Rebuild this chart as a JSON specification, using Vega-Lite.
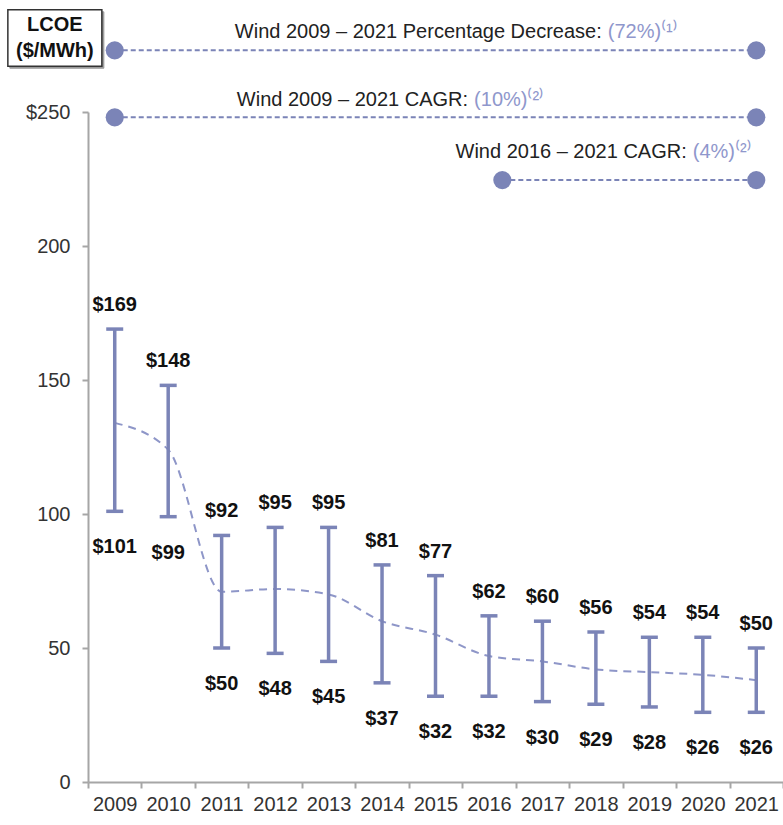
{
  "$schema": "https://vega.github.io/schema/vega-lite/v6.json",
  "width": 695,
  "height": 670,
  "autosize": {"type": "none"},
  "padding": {"left": 88, "top": 112, "right": 0, "bottom": 43},
  "background": "white",
  "view": {"stroke": null},
  "config": {
    "font": "Liberation Sans",
    "axis": {
      "labelFontSize": 20,
      "labelColor": "#333333",
      "domainColor": "#a6a6a6",
      "domainWidth": 2,
      "tickColor": "#a6a6a6",
      "tickWidth": 2,
      "tickSize": 6,
      "grid": false
    }
  },
  "datasets": {
    "lcoe": [
      {"year": 2009, "low": 101, "high": 169, "mid": 134},
      {"year": 2010, "low": 99, "high": 148, "mid": 124},
      {"year": 2011, "low": 50, "high": 92, "mid": 71},
      {"year": 2012, "low": 48, "high": 95, "mid": 72},
      {"year": 2013, "low": 45, "high": 95, "mid": 70},
      {"year": 2014, "low": 37, "high": 81, "mid": 60},
      {"year": 2015, "low": 32, "high": 77, "mid": 55},
      {"year": 2016, "low": 32, "high": 62, "mid": 47},
      {"year": 2017, "low": 30, "high": 60, "mid": 45},
      {"year": 2018, "low": 29, "high": 56, "mid": 42},
      {"year": 2019, "low": 28, "high": 54, "mid": 41},
      {"year": 2020, "low": 26, "high": 54, "mid": 40},
      {"year": 2021, "low": 26, "high": 50, "mid": 38}
    ],
    "annLines": [
      {"x1": 2009, "x2": 2021, "y": 273},
      {"x1": 2009, "x2": 2021, "y": 248},
      {"x1": 2016.25, "x2": 2021, "y": 224.6}
    ],
    "annPts": [
      {"x": 2009, "y": 273},
      {"x": 2021, "y": 273},
      {"x": 2009, "y": 248},
      {"x": 2021, "y": 248},
      {"x": 2016.25, "y": 224.6},
      {"x": 2021, "y": 224.6}
    ],
    "annText": [
      {"x": 2018.11, "y": 280, "label": "Wind 2009 – 2021 Percentage Decrease:", "value": "(72%)⁽¹⁾"},
      {"x": 2015.61, "y": 254.5, "label": "Wind 2009 – 2021 CAGR:", "value": "(10%)⁽²⁾"},
      {"x": 2019.7, "y": 235, "label": "Wind 2016 – 2021 CAGR:", "value": "(4%)⁽²⁾"}
    ],
    "box": [
      {"x": 2007.88, "y": 277.6, "t": "LCOE\n($/MWh)"}
    ]
  },
  "layer": [
    {
      "data": {"name": "lcoe"},
      "mark": {"type": "line", "color": "#8e96c8", "strokeWidth": 2, "strokeDash": [8, 6], "interpolate": "monotone"},
      "encoding": {
        "x": {
          "field": "year", "type": "quantitative", "title": null,
          "scale": {"domain": [2008.5, 2021.5], "nice": false, "zero": false},
          "axis": {
            "values": [2008.5, 2009.5, 2010.5, 2011.5, 2012.5, 2013.5, 2014.5, 2015.5, 2016.5, 2017.5, 2018.5, 2019.5, 2020.5, 2021.5],
            "labelExpr": "datum.value > 2021 ? '' : '' + (datum.value + 0.5)",
            "labelOffset": 26.7,
            "labelFlush": false,
            "labelOverlap": false,
            "labelPadding": 6,
            "title": null
          }
        },
        "y": {
          "field": "mid", "type": "quantitative", "title": null,
          "scale": {"domain": [0, 250], "nice": false, "zero": true},
          "axis": {
            "values": [0, 50, 100, 150, 200, 250],
            "labelExpr": "datum.value == 250 ? '$250' : datum.label",
            "labelPadding": 12,
            "labelOverlap": false,
            "title": null
          }
        }
      }
    },
    {
      "data": {"name": "lcoe"},
      "mark": {"type": "rule", "color": "#7b84b7", "strokeWidth": 3.5},
      "encoding": {
        "x": {"field": "year", "type": "quantitative", "title": null, "scale": {"domain": [2008.5, 2021.5], "nice": false, "zero": false}},
        "y": {"field": "low", "type": "quantitative", "title": null, "scale": {"domain": [0, 250], "nice": false}},
        "y2": {"field": "high"}
      }
    },
    {
      "data": {"name": "lcoe"},
      "mark": {"type": "tick", "orient": "horizontal", "size": 17, "thickness": 3.5, "color": "#7b84b7", "opacity": 1},
      "encoding": {
        "x": {"field": "year", "type": "quantitative", "title": null, "scale": {"domain": [2008.5, 2021.5], "nice": false, "zero": false}},
        "y": {"field": "low", "type": "quantitative", "title": null, "scale": {"domain": [0, 250], "nice": false}}
      }
    },
    {
      "data": {"name": "lcoe"},
      "mark": {"type": "tick", "orient": "horizontal", "size": 17, "thickness": 3.5, "color": "#7b84b7", "opacity": 1},
      "encoding": {
        "x": {"field": "year", "type": "quantitative", "title": null, "scale": {"domain": [2008.5, 2021.5], "nice": false, "zero": false}},
        "y": {"field": "high", "type": "quantitative", "title": null, "scale": {"domain": [0, 250], "nice": false}}
      }
    },
    {
      "data": {"name": "lcoe"},
      "mark": {"type": "text", "fontSize": 20, "fontWeight": "bold", "color": "#111111", "baseline": "middle", "dy": -24},
      "encoding": {
        "x": {"field": "year", "type": "quantitative", "title": null, "scale": {"domain": [2008.5, 2021.5], "nice": false, "zero": false}},
        "y": {"field": "high", "type": "quantitative", "title": null, "scale": {"domain": [0, 250], "nice": false}},
        "text": {"field": "high", "type": "quantitative", "format": "$.0f"}
      }
    },
    {
      "data": {"name": "lcoe"},
      "mark": {"type": "text", "fontSize": 20, "fontWeight": "bold", "color": "#111111", "baseline": "middle", "dy": 36},
      "encoding": {
        "x": {"field": "year", "type": "quantitative", "title": null, "scale": {"domain": [2008.5, 2021.5], "nice": false, "zero": false}},
        "y": {"field": "low", "type": "quantitative", "title": null, "scale": {"domain": [0, 250], "nice": false}},
        "text": {"field": "low", "type": "quantitative", "format": "$.0f"}
      }
    },
    {
      "data": {"name": "annLines"},
      "mark": {"type": "rule", "color": "#7b84b7", "strokeWidth": 2, "strokeDash": [5, 3]},
      "encoding": {
        "x": {"field": "x1", "type": "quantitative", "title": null, "scale": {"domain": [2008.5, 2021.5], "nice": false, "zero": false}},
        "x2": {"field": "x2"},
        "y": {"field": "y", "type": "quantitative", "title": null, "scale": {"domain": [0, 250], "nice": false}}
      }
    },
    {
      "data": {"name": "annPts"},
      "mark": {"type": "circle", "color": "#7b84b7", "size": 330, "opacity": 1},
      "encoding": {
        "x": {"field": "x", "type": "quantitative", "title": null, "scale": {"domain": [2008.5, 2021.5], "nice": false, "zero": false}},
        "y": {"field": "y", "type": "quantitative", "title": null, "scale": {"domain": [0, 250], "nice": false}}
      }
    },
    {
      "data": {"name": "annText"},
      "mark": {"type": "text", "fontSize": 20, "color": "#222222", "align": "right", "baseline": "middle"},
      "encoding": {
        "x": {"field": "x", "type": "quantitative", "title": null, "scale": {"domain": [2008.5, 2021.5], "nice": false, "zero": false}},
        "y": {"field": "y", "type": "quantitative", "title": null, "scale": {"domain": [0, 250], "nice": false}},
        "text": {"field": "label", "type": "nominal"}
      }
    },
    {
      "data": {"name": "annText"},
      "mark": {"type": "text", "fontSize": 20, "color": "#8f97cc", "align": "left", "baseline": "middle", "dx": 6},
      "encoding": {
        "x": {"field": "x", "type": "quantitative", "title": null, "scale": {"domain": [2008.5, 2021.5], "nice": false, "zero": false}},
        "y": {"field": "y", "type": "quantitative", "title": null, "scale": {"domain": [0, 250], "nice": false}},
        "text": {"field": "value", "type": "nominal"}
      }
    },
    {
      "data": {"name": "box"},
      "mark": {"type": "point", "shape": "M-1,-0.6H1V0.6H-1Z", "size": 8836, "filled": true, "fill": "#9a9a9a", "stroke": "#9a9a9a", "strokeWidth": 1, "opacity": 1, "xOffset": 2, "yOffset": 2},
      "encoding": {
        "x": {"field": "x", "type": "quantitative", "title": null, "scale": {"domain": [2008.5, 2021.5], "nice": false, "zero": false}},
        "y": {"field": "y", "type": "quantitative", "title": null, "scale": {"domain": [0, 250], "nice": false}}
      }
    },
    {
      "data": {"name": "box"},
      "mark": {"type": "point", "shape": "M-1,-0.6H1V0.6H-1Z", "size": 8836, "filled": true, "fill": "white", "stroke": "#333333", "strokeWidth": 1.5, "opacity": 1},
      "encoding": {
        "x": {"field": "x", "type": "quantitative", "title": null, "scale": {"domain": [2008.5, 2021.5], "nice": false, "zero": false}},
        "y": {"field": "y", "type": "quantitative", "title": null, "scale": {"domain": [0, 250], "nice": false}}
      }
    },
    {
      "data": {"name": "box"},
      "mark": {"type": "text", "fontSize": 20, "fontWeight": "bold", "color": "#111111", "align": "center", "baseline": "middle", "lineBreak": "\n", "lineHeight": 26, "dy": -13},
      "encoding": {
        "x": {"field": "x", "type": "quantitative", "title": null, "scale": {"domain": [2008.5, 2021.5], "nice": false, "zero": false}},
        "y": {"field": "y", "type": "quantitative", "title": null, "scale": {"domain": [0, 250], "nice": false}},
        "text": {"field": "t", "type": "nominal"}
      }
    }
  ]
}
